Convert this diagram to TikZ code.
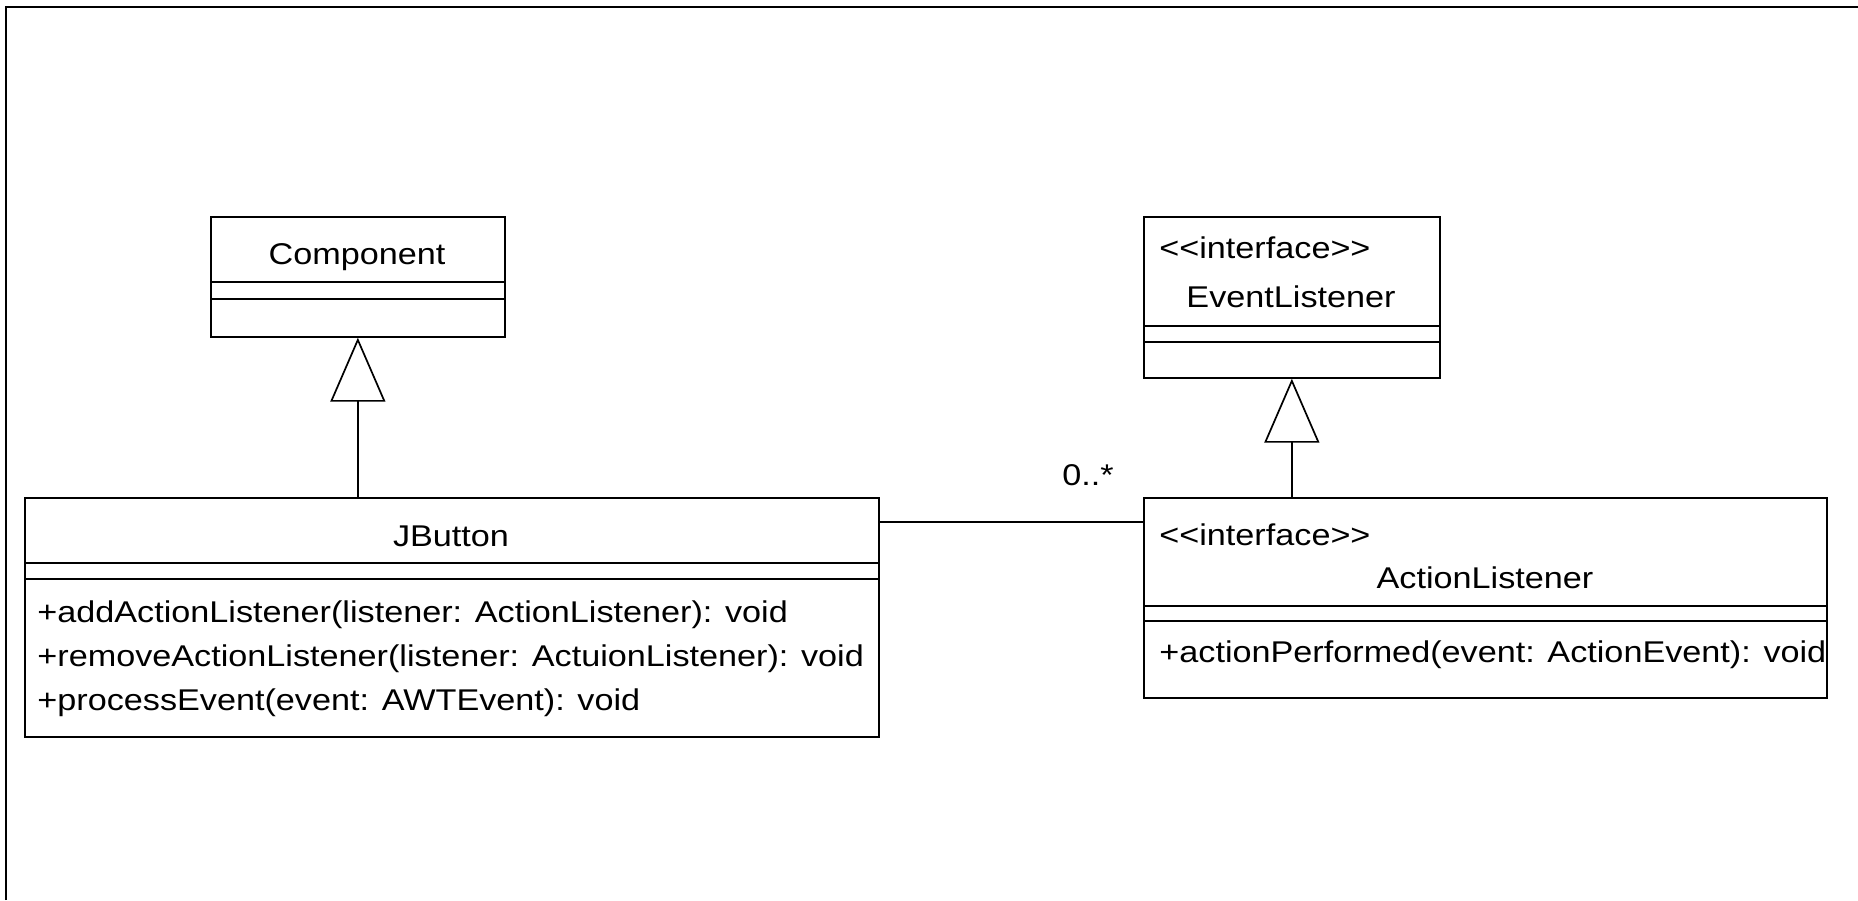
\documentclass[tikz,border=0pt]{standalone}
\usepackage{fontspec}
\newfontfamily\umlfont[FakeStretch=1.14]{Liberation Sans}
\usetikzlibrary{arrows.meta}
\begin{document}
\begin{tikzpicture}[x=0.5pt,y=-0.5pt,
  every node/.style={font=\umlfont\fontsize{15pt}{18pt}\selectfont},
  box/.style={draw=black, line width=0.85pt, anchor=north west, inner sep=0pt, fill=none},
  lbl/.style={inner sep=0pt, anchor=base},
  lblw/.style={inner sep=0pt, anchor=base west},
  divider/.style={line width=0.85pt},
  inh/.style={line width=0.85pt, -{Triangle[open, length=32pt, width=27.5pt, line width=0.85pt]}},
  assoc/.style={line width=0.85pt}]
\useasboundingbox (0,0) rectangle (1858,900);
\fill[white] (0,0) rectangle (1858,900);
% frame (top and left only)
\draw[line width=1.3pt] (6,900) -- (6,7) -- (1858,7);

% Component
\node[box, minimum width=147pt, minimum height=60pt] (comp) at (210,216) {};
\node[lbl] (compname) at (357,264) {Component};
\draw[divider] (comp.west |- 0,282) -- (comp.east |- 0,282);
\draw[divider] (comp.west |- 0,299) -- (comp.east |- 0,299);

% EventListener
\node[box, minimum width=148pt, minimum height=80.5pt] (el) at (1143,216) {};
\node[lblw] (elster) at (1159,258) {<<interface>>};
\node[lbl] (elname) at (1291,307) {EventListener};
\draw[divider] (el.west |- 0,326) -- (el.east |- 0,326);
\draw[divider] (el.west |- 0,342) -- (el.east |- 0,342);

% JButton
\node[box, minimum width=427pt, minimum height=119.5pt] (jb) at (24,497) {};
\node[lbl] (jbname) at (451,546) {JButton};
\draw[divider] (jb.west |- 0,563) -- (jb.east |- 0,563);
\draw[divider] (jb.west |- 0,579) -- (jb.east |- 0,579);
\node[lblw] (m1) at (37,622) {+addActionListener(listener: ActionListener): void};
\node[lblw] (m2) at (37,666) {+removeActionListener(listener: ActuionListener): void};
\node[lblw] (m3) at (37,710) {+processEvent(event: AWTEvent): void};

% ActionListener
\node[box, minimum width=341.5pt, minimum height=100pt] (al) at (1143,497) {};
\node[lblw] (alster) at (1159,545) {<<interface>>};
\node[lbl] (alname) at (1485,588) {ActionListener};
\draw[divider] (al.west |- 0,606) -- (al.east |- 0,606);
\draw[divider] (al.west |- 0,621) -- (al.east |- 0,621);
\node[lblw] (a1) at (1159,662) {+actionPerformed(event: ActionEvent): void};

% connectors
\draw[inh] (comp.south |- jb.north) -- (comp.south);
\draw[inh] (el.south |- al.north) -- (el.south);
\draw[assoc] ([yshift=-12.5pt]jb.north east) -- ([yshift=-12.5pt]al.north west);
\node[lblw] (mult) at (1062,485) {0..*};
\end{tikzpicture}
\end{document}
